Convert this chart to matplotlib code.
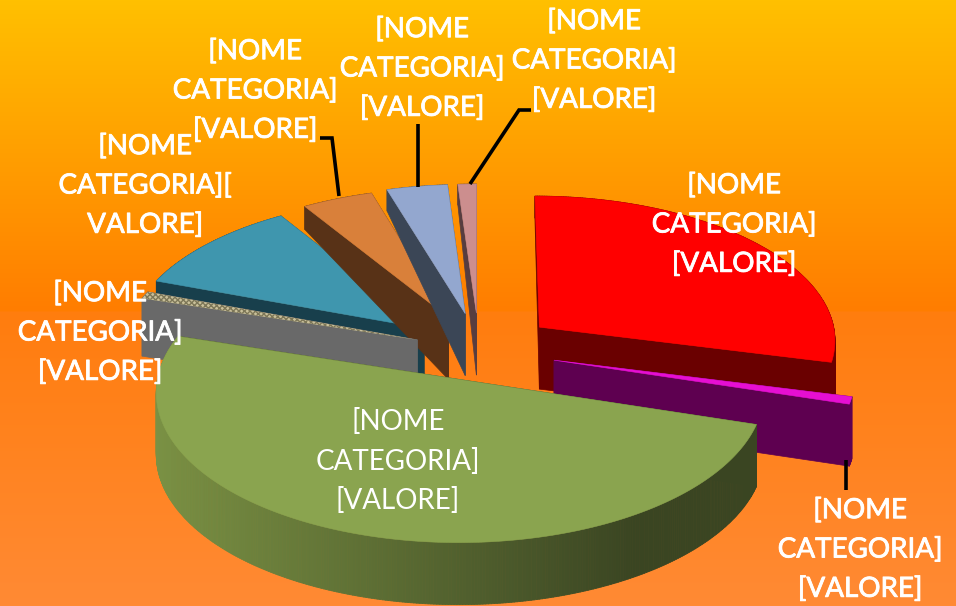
#!/usr/bin/env python3
# -*- coding: utf-8 -*-
"""Torta 3D esplosa con sfondo sfumato, disegnata a mano perche' matplotlib non ha il 3D pie."""
import numpy as np
import matplotlib
matplotlib.use("Agg")
import matplotlib.pyplot as plt
import matplotlib.patheffects as pe
from matplotlib.collections import PolyCollection
from matplotlib.colors import to_rgb

# dati (percentuali stimate), senso orario a partire dalle 12
names = ["rosso", "viola", "verde", "grigio", "blu", "arancio", "azzurro", "rosa"]
values = [28.9, 0.8, 50.0, 0.8, 10.5, 4.2, 3.6, 1.1]
explode = [0.26, 0.26, 0.21, 0.22, 0.24, 0.25, 0.26, 0.26]
top_colors = ["#ff0000", "#e60fd2", "#8aa44f", "#c9c09a", "#3f96ae", "#d9803a", "#93a7cf", "#cc8e8e"]
side_colors = ["#6a0000", "#5e0050", "#3a4522", "#696969", "#183f4c", "#583217", "#3b4656", "#573d40"]
labels = [
    "[NOME\nCATEGORIA]\n[VALORE]",
    "[NOME\nCATEGORIA]\n[VALORE]",
    "[NOME\nCATEGORIA]\n[VALORE]",
    "[NOME\nCATEGORIA]\n[VALORE]",
    "[NOME\nCATEGORIA][\nVALORE]",
    "[NOME\nCATEGORIA]\n[VALORE]",
    "[NOME\nCATEGORIA]\n[VALORE]",
    "[NOME\nCATEGORIA]\n[VALORE]",
]
label_x = [734, 860, 398, 100, 145, 255, 422, 594]
label_y = [224, 549, 461, 332, 185, 90, 68, 60]

# linee guida delle etichette
leaders = [
    [(320, 138), (332, 138), (339, 196)],
    [(418, 124), (418, 187)],
    [(531, 110), (519, 110), (470, 184)],
    [(846, 460), (846, 490)],
]

# geometria della torta
CX, CY = 479, 350
RX, RY = 298, 145
PERSP = 0.08
START = 90.0
DRAW_ORDER = [4, 5, 6, 7, 3, 0, 1, 2]
GREEN = 2
GRAY = 3


def project(x, y, drop=False):
    """Piano della torta -> pixel, con un po' di prospettiva."""
    x = np.asarray(x, dtype=float)
    y = np.asarray(y, dtype=float)
    s = 1.0 / (1.0 + PERSP * y)
    px = CX + RX * x * s
    py = CY - RY * y * s
    if drop:
        py = py + np.interp(y, [-1.3, 0.3, 0.85, 1.3], [62, 62, 26, 20])
    return px, py


def draw_slice(ax, a1, a2, exp, top, side, gradient=False, hatch=None):
    mid = np.radians((a1 + a2) / 2)
    ox, oy = exp * np.cos(mid), exp * np.sin(mid)
    theta = np.radians(np.linspace(a1, a2, max(int(abs(a1 - a2) * 2), 6)))
    ex = ox + np.cos(theta)
    ey = oy + np.sin(theta)

    # pareti di taglio
    for cx_, cy_ in ((ex[0], ey[0]), (ex[-1], ey[-1])):
        xs = np.array([ox, cx_])
        ys = np.array([oy, cy_])
        tx, ty = project(xs, ys)
        bx, by = project(xs, ys, drop=True)
        wall = np.column_stack([np.r_[tx, bx[::-1]], np.r_[ty, by[::-1]]])
        ax.fill(wall[:, 0], wall[:, 1], color=side, lw=0.5, zorder=2)

    # bordo esterno
    tx, ty = project(ex, ey)
    bx, by = project(ex, ey, drop=True)
    quads = []
    cols = []
    for i in range(len(ex) - 1):
        quads.append([(tx[i], ty[i]), (tx[i + 1], ty[i + 1]), (bx[i + 1], by[i + 1]), (bx[i], by[i])])
        if gradient:
            t = np.clip((tx[i] - 155) / 480, 0, 1)
            cols.append(tuple((1 - t) * np.array(to_rgb("#7a9144")) + t * np.array(to_rgb(side))))
        else:
            cols.append(side)
    ax.add_collection(PolyCollection(quads, facecolors=cols, edgecolors=cols, linewidths=0.6, zorder=2))

    # faccia superiore
    fx = np.r_[ox, ex]
    fy = np.r_[oy, ey]
    px, py = project(fx, fy)
    if hatch:
        ax.fill(px, py, facecolor=top, edgecolor="#7d7758", hatch=hatch, lw=0, zorder=2)
    else:
        ax.fill(px, py, color=top, lw=0.4, zorder=2)


fig = plt.figure(figsize=(9.56, 6.06), dpi=100)
ax = fig.add_axes([0, 0, 1, 1])

# sfondo sfumato
rows = np.arange(606)
grad = np.zeros((606, 1, 3))
grad[:, 0, 0] = 255
grad[:, 0, 1] = np.interp(rows, [0, 310, 312, 605], [192, 125, 125, 138])
grad[:, 0, 2] = np.interp(rows, [0, 310, 312, 605], [0, 0, 14, 52])
ax.imshow(grad / 255, extent=(0, 956, 606, 0), aspect="auto", zorder=0)

# angoli dai valori
fractions = np.array(values) / sum(values)
edges = START - 360 * np.r_[0, np.cumsum(fractions)]

for i in DRAW_ORDER:
    # ogni fetta viene dipinta sopra quelle dietro
    draw_slice(ax, edges[i], edges[i + 1], explode[i], top_colors[i], side_colors[i],
               gradient=(i == GREEN), hatch="xxxxxx" if i == GRAY else None)

for pts in leaders:
    ax.plot([p[0] for p in pts], [p[1] for p in pts], color="black", lw=2.6, zorder=3,
            solid_capstyle="butt", solid_joinstyle="miter")

for i, txt in enumerate(labels):
    t = ax.text(label_x[i], label_y[i], txt, color="white", ha="center", va="center",
                family=["Lato", "DejaVu Sans"], fontsize=20, linespacing=1.56, zorder=5)
    if i != GREEN:
        t.set_path_effects([pe.withStroke(linewidth=0.6, foreground="white")])

ax.set_xlim(0, 956)
ax.set_ylim(606, 0)
ax.axis("off")
fig.savefig("out.png", dpi=100)
plt.close(fig)
